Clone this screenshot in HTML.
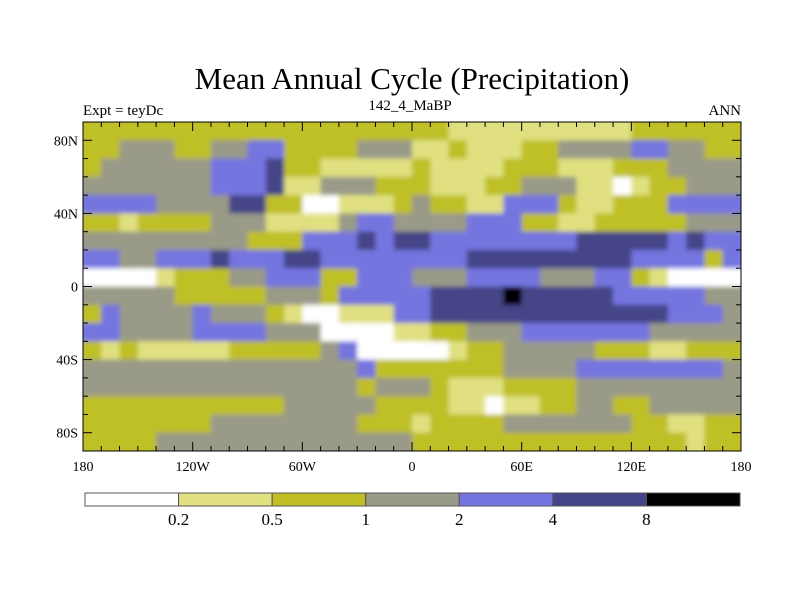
<!DOCTYPE html>
<html><head><meta charset="utf-8"><style>
body{margin:0;background:#fff}
svg text{font-family:"Liberation Serif",serif;fill:#000}
</style></head><body>
<svg id="chart" width="800" height="600" xmlns="http://www.w3.org/2000/svg">
<defs>
<clipPath id="plotclip"><rect x="83" y="122" width="658" height="329"/></clipPath>
<filter id="soft" x="-5%" y="-5%" width="110%" height="110%"><feGaussianBlur stdDeviation="2.5"/></filter>
</defs>
<text x="412" y="89" font-size="31" text-anchor="middle">Mean Annual Cycle (Precipitation)</text>
<text x="83" y="115" font-size="15">Expt = teyDc</text>
<text x="410" y="110" font-size="15" text-anchor="middle">142_4_MaBP</text>
<text x="741" y="115" font-size="15" text-anchor="end">ANN</text>
<g clip-path="url(#plotclip)"><g id="cells" filter="url(#soft)"></g></g>
<g id="axes"></g>
<g id="cbar"></g>
</svg>
<script>
// 10-degree cells, rows from 90N to 90S, columns from 180W to 180E; digit = contour level index
const levelRows = [
"222222222222222222221111111111222222",
"223332233442222333112111223333443322",
"233333344452211111211112221112223333",
"333333344451133322211122333110122333",
"444433335522001112322114442112224444",
"221222233311113443333444221122222333",
"333333333222444545544444444555554544",
"443344454445544444444555555555444424",
"000012223344422444333444433344210000",
"333332222233324444455556555554444433",
"243333433321001114455555555555554443",
"443333444433300001122333444444433333",
"212111112222234000001223333322211222",
"333333333333333422222223333444444443",
"333333333333333233321112222333333333",
"222222222223333322221101122332233333",
"222222233333333222122223333333221122",
"222233333333333333222222222222222122"
];
const levelColors = ["#ffffff","#e0e080","#bfbf25","#9a9a88","#7474e0","#444488","#000000"];
const levelLabels = ["0.2","0.5","1","2","4","8"];
const xTickLabels = ["180","120W","60W","0","60E","120E","180"];
const xTickLons = [-180,-120,-60,0,60,120,180];
const yTickLabels = ["80N","40N","0","40S","80S"];
const yTickLats = [80,40,0,-40,-80];

const NS="http://www.w3.org/2000/svg";
const L=83,R=741,T=122,B=451;
const xScale=lon=>L+(lon+180)/360*(R-L);
const yScale=lat=>T+(90-lat)/180*(B-T);
function mk(tag,attrs,parent){const e=document.createElementNS(NS,tag);for(const k in attrs)e.setAttribute(k,attrs[k]);parent.appendChild(e);return e;}

const cells=document.getElementById('cells');
levelRows.forEach((row,r)=>{
  const lat0=90-r*10, lat1=lat0-10;
  for(let c=0;c<row.length;c++){
    const v=+row[c];
    const lon0=-180+c*10, lon1=lon0+10;
    let x0=xScale(lon0), x1=xScale(lon1), y0=yScale(lat0), y1=yScale(lat1);
    if(c===0)x0-=8; if(c===row.length-1)x1+=8; if(r===0)y0-=8; if(r===levelRows.length-1)y1+=8;
    const el=mk('rect',{x:x0,y:y0,width:x1-x0+0.4,height:y1-y0+0.4,fill:levelColors[v]},cells);
    
    
  }
});

const axes=document.getElementById('axes');
const frame=mk('rect',{x:L,y:T,width:R-L,height:B-T,fill:'none',stroke:'#000','stroke-width':1},axes);


for(let lon=-180;lon<=180;lon+=10){
  const x=xScale(lon), len=(lon%60===0)?9:5;
  mk('line',{x1:x,x2:x,y1:B,y2:B-len,stroke:'#000'},axes);
  mk('line',{x1:x,x2:x,y1:T,y2:T+len,stroke:'#000'},axes);
}
xTickLons.forEach((lon,i)=>{
  const t=mk('text',{x:xScale(lon),y:B+20,'font-size':14,'text-anchor':'middle'},axes);
  t.textContent=xTickLabels[i];
  
  
});
for(let lat=-90;lat<=90;lat+=10){
  const y=yScale(lat), len=(lat%40===0)?9:5;
  mk('line',{x1:L,x2:L+len,y1:y,y2:y,stroke:'#000'},axes);
  mk('line',{x1:R,x2:R-len,y1:y,y2:y,stroke:'#000'},axes);
}
yTickLats.forEach((lat,i)=>{
  const t=mk('text',{x:L-5,y:yScale(lat)+5,'font-size':14,'text-anchor':'end'},axes);
  t.textContent=yTickLabels[i];
  
  
});

const cb=document.getElementById('cbar');
const cbL=85,cbR=740,cbT=493,cbH=13,n=levelColors.length,w=(cbR-cbL)/n;
levelColors.forEach((col,i)=>{
  const el=mk('rect',{x:cbL+i*w,y:cbT,width:w,height:cbH,fill:col,stroke:'#555','stroke-width':1},cb);
  
  
});
levelLabels.forEach((lab,i)=>{
  const t=mk('text',{x:cbL+(i+1)*w,y:cbT+cbH+19,'font-size':17,'text-anchor':'middle'},cb);
  t.textContent=lab;
  
  
});
</script>
</body></html>
